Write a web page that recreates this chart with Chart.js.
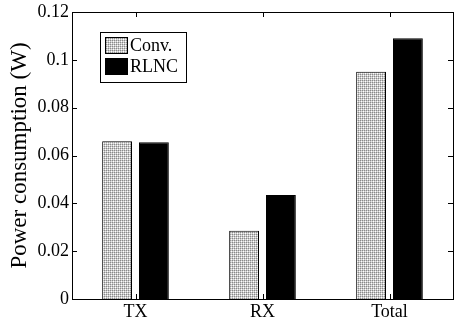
<!DOCTYPE html>
<html>
<head>
<meta charset="utf-8">
<script src="https://cdn.jsdelivr.net/npm/chart.js@4.4.1/dist/chart.umd.min.js"></script>
<style>
body { margin: 0; background: #fff; }
#wrap { width: 458px; height: 322px; }
</style>
</head>
<body>
<div id="wrap"><canvas id="powerChart"></canvas></div>
<script>
// data
const categories = ['TX', 'RX', 'Total'];
const convPower = [0.066, 0.0285, 0.095];
const rlncPower = [0.0655, 0.0435, 0.109];
const yTickValues = [0, 0.02, 0.04, 0.06, 0.08, 0.1, 0.12];

// dotted grey texture like the printed figure
function makeDots() {
    const c = document.createElement('canvas');
    c.width = 4; c.height = 4;
    const g = c.getContext('2d');
    const rows = [
        ['#8a8a8a', '#c8c8c8', '#8a8a8a', '#c8c8c8'],
        ['#c8c8c8', '#ffffff', '#c8c8c8', '#ececec'],
        ['#8a8a8a', '#c8c8c8', '#8a8a8a', '#c8c8c8'],
        ['#c8c8c8', '#ececec', '#c8c8c8', '#ffffff']
    ];
    rows.forEach((r, y) => r.forEach((col, x) => {
        g.fillStyle = col;
        g.fillRect(x, y, 1, 1);
    }));
    return g.createPattern(c, 'repeat');
}
const convFill = makeDots();

const serif = '"Liberation Serif", "Times New Roman", serif';

// box around plot with inward ticks on all sides, plus the legend
const boxTicks = {
    id: 'boxTicks',
    afterDraw(chart) {
        const { ctx, chartArea: a, scales } = chart;
        ctx.save();
        ctx.strokeStyle = '#000';
        ctx.lineWidth = 1;
        ctx.strokeRect(a.left + 0.5, a.top + 0.5, a.right - a.left, a.bottom - a.top);
        ctx.beginPath();
        yTickValues.forEach(v => {
            const y = Math.round(scales.y.getPixelForValue(v)) + 0.5;
            ctx.moveTo(a.left, y); ctx.lineTo(a.left + 5, y);
            ctx.moveTo(a.right, y); ctx.lineTo(a.right - 5, y);
        });
        categories.forEach((c, i) => {
            const x = Math.round(scales.x.getPixelForValue(i)) + 0.5;
            ctx.moveTo(x, a.bottom); ctx.lineTo(x, a.bottom - 5);
            ctx.moveTo(x, a.top); ctx.lineTo(x, a.top + 5);
        });
        ctx.stroke();

        // legend box
        const lx = 100, ly = 32, lw = 86, lh = 50;
        ctx.strokeRect(lx + 0.5, ly + 0.5, lw, lh);
        ctx.font = '18px ' + serif;
        ctx.textBaseline = 'middle';
        ctx.textAlign = 'left';
        chart.data.datasets.forEach((ds, i) => {
            const sy = ly + 5 + i * 21;
            ctx.fillStyle = ds.backgroundColor;
            ctx.fillRect(lx + 5, sy, 23, 17);
            ctx.strokeRect(lx + 5.5, sy + 0.5, 22, 16);
            ctx.fillStyle = '#000';
            ctx.fillText(ds.label, lx + 30, sy + 9);
        });
        ctx.restore();
    }
};

new Chart(document.getElementById('powerChart'), {
    type: 'bar',
    data: {
        labels: categories,
        datasets: [{
            label: 'Conv.',
            data: convPower,
            backgroundColor: convFill,
            borderColor: '#000',
            borderWidth: 1,
            categoryPercentage: 0.58,
            barPercentage: 0.81
        }, {
            label: 'RLNC',
            data: rlncPower,
            backgroundColor: '#000',
            borderColor: '#000',
            borderWidth: 1,
            categoryPercentage: 0.58,
            barPercentage: 0.81
        }]
    },
    options: {
        responsive: true,
        maintainAspectRatio: false,
        animation: false,
        devicePixelRatio: 1,
        layout: { padding: { top: 0, right: 5, left: 0, bottom: 0 } },
        plugins: { legend: { display: false }, tooltip: { enabled: false } },
        scales: {
            x: {
                grid: { display: false, drawTicks: false },
                border: { display: false },
                ticks: { color: '#000', font: { family: serif, size: 18 }, padding: 2 },
                afterFit: s => { s.height = 23; }
            },
            y: {
                min: 0,
                max: 0.12,
                afterBuildTicks: s => { s.ticks = yTickValues.map(v => ({ value: v })); },
                grid: { display: false, drawTicks: false },
                border: { display: false },
                ticks: {
                    color: '#000',
                    font: { family: serif, size: 18, lineHeight: 1 },
                    padding: 3,
                    callback: v => String(+v.toFixed(2))
                },
                title: {
                    display: true,
                    text: 'Power consumption (W)',
                    color: '#000',
                    font: { family: serif, size: 23 },
                    padding: { top: 6, bottom: 0 }
                },
                afterFit: s => { s.width = 72; }
            }
        }
    },
    plugins: [boxTicks]
});
</script>
</body>
</html>
